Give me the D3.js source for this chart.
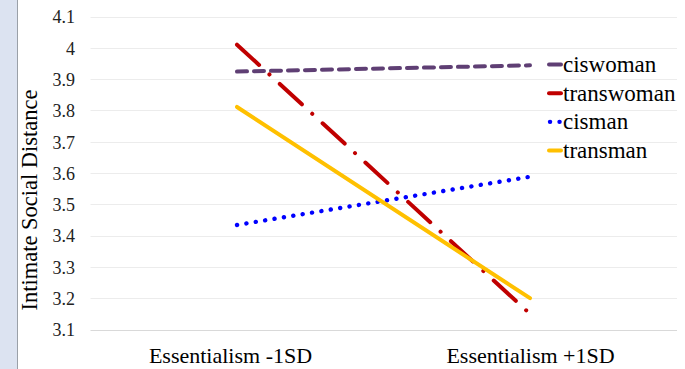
<!DOCTYPE html>
<html>
<head>
<meta charset="utf-8">
<script src="https://cdn.jsdelivr.net/npm/d3@7"></script>
<style>
  html, body { margin: 0; padding: 0; background: #fff; }
  svg { display: block; font-family: "Liberation Serif", "Times New Roman", serif; }
</style>
</head>
<body>
<svg id="chart" width="685" height="369"></svg>
<script>
const categories = ["Essentialism -1SD", "Essentialism +1SD"];
const seriesNames = ["ciswoman", "transwoman", "cisman", "transman"];
const ciswoman = [3.924, 3.944];
const transwoman = [4.010, 3.150];
const cisman = [3.434, 3.588];
const transman = [3.811, 3.200];
const yTicks = [3.1, 3.2, 3.3, 3.4, 3.5, 3.6, 3.7, 3.8, 3.9, 4, 4.1];
const yTitle = "Intimate Social Distance";

const seriesValues = [ciswoman, transwoman, cisman, transman];
const styles = {
  ciswoman:   { color: "#5f3f74", dash: "10 7", cap: "round", width: 4 },
  transwoman: { color: "#c00000", dash: "30 14 0.1 14", cap: "round", width: 4 },
  cisman:     { color: "#0000ff", dash: "0.1 9.4", cap: "round", width: 4.4 },
  transman:   { color: "#ffc000", dash: null, cap: "round", width: 4 }
};

const svg = d3.select("#chart");

// left strip
svg.append("rect").attr("x", 0).attr("y", 0).attr("width", 17).attr("height", 369).attr("fill", "#dce3f1");
svg.append("line").attr("x1", 17.5).attr("x2", 17.5).attr("y1", 0).attr("y2", 369).attr("stroke", "#9aa0a8").attr("stroke-width", 1);

const x = d3.scalePoint().domain(categories).range([90.5, 676.5]).padding(0.5);
const y = d3.scaleLinear().domain([3.1, 4.1]).range([329.5, 16.5]);

// gridlines
svg.append("g").selectAll("line").data(yTicks).join("line")
  .attr("x1", 90.5).attr("x2", 677)
  .attr("y1", d => Math.round(y(d)) + 0.5).attr("y2", d => Math.round(y(d)) + 0.5)
  .attr("stroke", d => d === 3.1 ? "#d9d9d9" : "#ececec").attr("stroke-width", 1);

// y axis tick labels
const yAxis = d3.axisLeft(y).tickValues(yTicks).tickSize(0).tickPadding(0)
  .tickFormat(d => String(d));
const gy = svg.append("g").attr("transform", "translate(75,0)").call(yAxis);
gy.attr("font-family", null);
gy.select(".domain").remove();
gy.selectAll("text").attr("font-family", "Liberation Serif").attr("font-size", 18).attr("fill", "#222").attr("dy", "0.35em");

// y title
svg.append("text")
  .attr("transform", "translate(37,200) rotate(-90)")
  .attr("text-anchor", "middle")
  .attr("font-size", 22.5).attr("fill", "#000")
  .text(yTitle);

// x axis labels
const xAxis = d3.axisBottom(x).tickSize(0).tickPadding(0);
const gx = svg.append("g").attr("transform", "translate(0,363)").call(xAxis);
gx.attr("font-family", null);
gx.select(".domain").remove();
gx.selectAll("text").attr("font-family", "Liberation Serif").attr("font-size", 22).attr("fill", "#000")
  .attr("dy", 0).attr("dx", (d, i) => i === 0 ? -7 : 0);

// lines
const line = d3.line().x((d, i) => x(categories[i])).y(d => y(d));
seriesNames.forEach((name, k) => {
  const s = styles[name];
  svg.append("path")
    .datum(seriesValues[k])
    .attr("d", line)
    .attr("fill", "none")
    .attr("stroke", s.color)
    .attr("stroke-width", s.width)
    .attr("stroke-linecap", s.cap)
    .attr("stroke-dasharray", s.dash);
});

// legend
const legend = svg.append("g");
const legendY = d3.scalePoint().domain(seriesNames).range([64.5, 150.5]);
seriesNames.forEach(name => {
  const s = styles[name];
  const yy = legendY(name);
  if (name === "cisman") {
    legend.append("line").attr("x1", 550).attr("x2", 560).attr("y1", yy).attr("y2", yy)
      .attr("stroke", s.color).attr("stroke-width", s.width).attr("stroke-linecap", "round")
      .attr("stroke-dasharray", "0.1 9.4");
  } else {
    legend.append("line").attr("x1", 549).attr("x2", 561).attr("y1", yy).attr("y2", yy)
      .attr("stroke", s.color).attr("stroke-width", s.width).attr("stroke-linecap", "round");
  }
  legend.append("text").attr("x", 563).attr("y", yy + 7.5)
    .attr("font-size", 23).attr("fill", "#000").text(name);
});
</script>
</body>
</html>
